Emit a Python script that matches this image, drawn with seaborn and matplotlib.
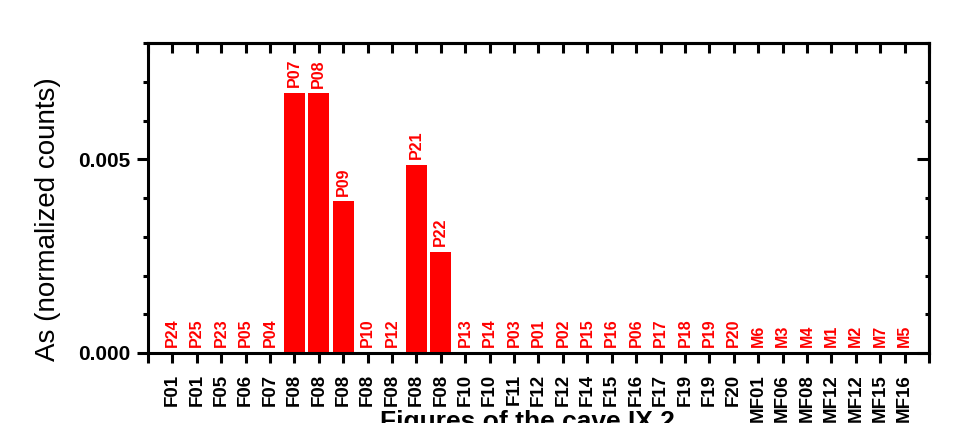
import matplotlib
matplotlib.use("Agg")
import matplotlib.pyplot as plt
from matplotlib.ticker import MultipleLocator, FixedLocator
import pandas as pd
import seaborn as sns

# Sample codes (labels on top of bars), figure each sample belongs to, and As level
samples = ["P24", "P25", "P23", "P05", "P04", "P07", "P08", "P09", "P10", "P12",
           "P21", "P22", "P13", "P14", "P03", "P01", "P02", "P15", "P16", "P06",
           "P17", "P18", "P19", "P20", "M6", "M3", "M4", "M1", "M2", "M7", "M5"]
figures = ["F01", "F01", "F05", "F06", "F07", "F08", "F08", "F08", "F08", "F08",
           "F08", "F08", "F10", "F10", "F11", "F12", "F12", "F14", "F15", "F16",
           "F17", "F19", "F19", "F20", "MF01", "MF06", "MF08", "MF12", "MF12",
           "MF15", "MF16"]
as_counts = [0.0, 0.0, 0.0, 0.0, 0.0, 0.00672, 0.00670, 0.00392, 0.0, 0.0,
             0.00486, 0.00261, 0.0, 0.0, 0.0, 0.0, 0.0, 0.0, 0.0, 0.0,
             0.0, 0.0, 0.0, 0.0, 0.0, 0.0, 0.0, 0.0, 0.0, 0.0, 0.0]

df = pd.DataFrame({"sample": samples, "figure": figures, "value": as_counts})

sns.set_style("ticks")
plt.rcParams["font.family"] = ["Liberation Sans", "DejaVu Sans"]
for key in ["text.color", "axes.labelcolor", "xtick.color", "ytick.color",
            "axes.edgecolor"]:
    plt.rcParams[key] = "black"

fig = plt.figure(figsize=(9.61, 4.23), dpi=100)
ax = fig.add_axes([0.154, 0.1655, 0.8127, 0.7325])

sns.barplot(data=df, x="sample", y="value", order=samples, color="#ff0000",
            saturation=1, width=0.85, edgecolor="none", ax=ax)

# sample tags above each bar
for i, (s, v) in enumerate(zip(samples, as_counts)):
    ax.annotate(s, (i, v), xytext=(0, 4), textcoords="offset points",
                rotation=90, ha="center", va="bottom", color="#ff0000",
                fontsize=11.5, fontweight="bold")

ax.set_xlim(-1, 31)
ax.set_ylim(0, 0.008)

# x ticks: one per bar plus the frame corners
xt = list(range(-1, len(samples) + 1))
ax.xaxis.set_major_locator(FixedLocator(xt))
ax.set_xticklabels([""] + figures + [""], rotation=90, fontsize=13.5,
                   fontweight="bold")

ax.yaxis.set_major_locator(FixedLocator([0.0, 0.005]))
ax.yaxis.set_minor_locator(MultipleLocator(0.001))
ax.set_yticklabels(["0.000", "0.005"], fontsize=15, fontweight="bold")

for side in ["left", "right", "top", "bottom"]:
    ax.spines[side].set_visible(True)
    ax.spines[side].set_linewidth(2.2)
    ax.spines[side].set_color("black")

ax.tick_params(axis="x", which="major", direction="out", length=7, width=2.2,
               pad=8, bottom=True, top=False, color="black")
ax.tick_params(axis="y", which="major", direction="out", length=8, width=2.2,
               pad=5, left=True, right=False, color="black")
ax.tick_params(axis="y", which="minor", direction="out", length=3.5, width=2.2,
               left=True, right=False, color="black")

# mirrored inward ticks on the top and right edges
top = ax.secondary_xaxis("top")
top.xaxis.set_major_locator(FixedLocator(xt))
top.tick_params(direction="in", length=7, width=2.2, labeltop=False)
top.spines["top"].set_linewidth(2.2)
right = ax.secondary_yaxis("right")
right.yaxis.set_major_locator(FixedLocator([0.0, 0.005]))
right.yaxis.set_minor_locator(MultipleLocator(0.001))
right.tick_params(which="major", direction="in", length=8.5, width=2.2,
                  labelright=False)
right.tick_params(which="minor", direction="in", length=3, width=2.2)
right.spines["right"].set_linewidth(2.2)

ax.set_xlabel("")
ax.set_ylabel("As (normalized counts)", fontsize=20)
ax.yaxis.set_label_coords(-0.111, 0.432)

fig.text(0.549, 1 - 410 / 423, "Figures of the cave IX 2", ha="center",
         va="top", fontsize=19, fontweight="bold")

fig.savefig("out.png", dpi=100)
